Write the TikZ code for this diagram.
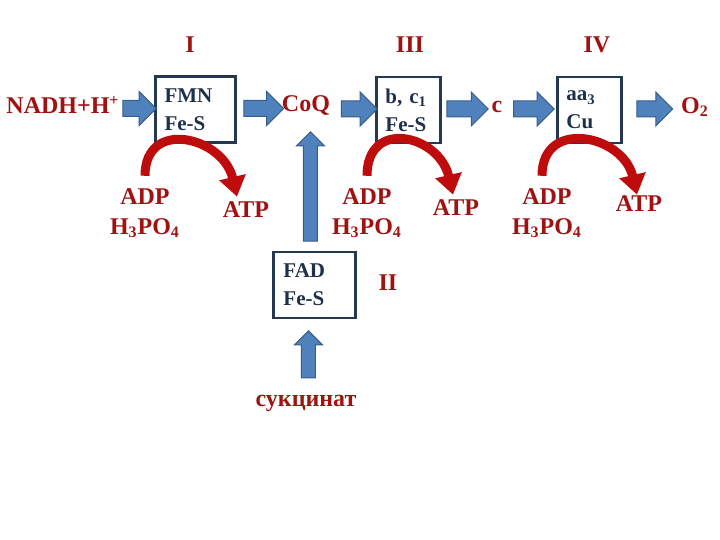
\documentclass[tikz,border=0pt]{standalone}
\usepackage{fontspec}
\setmainfont{Liberation Serif}
\usepackage{tikz}
\usetikzlibrary{arrows.meta,shapes.arrows,calc}

\definecolor{labred}{RGB}{160,18,18}
\definecolor{arcred}{RGB}{190,12,12}
\definecolor{arrblue}{RGB}{79,129,189}
\definecolor{arrline}{RGB}{56,93,138}
\definecolor{boxline}{RGB}{36,56,82}
\definecolor{boxtext}{RGB}{31,48,75}

\tikzset{
	lbl/.style={text=labred, inner sep=1pt, align=center, font=\bfseries\fontsize{12}{15}\selectfont},
	cbox/.style={draw=boxline, line width=1.3pt, text=boxtext, align=left, inner xsep=4.5pt,
		minimum height=33pt, font=\bfseries\fontsize{10.5}{14}\selectfont},
	blockarr/.style={single arrow, fill=arrblue, draw=arrline, line width=0.5pt, inner xsep=0pt,
		inner ysep=3.75pt, minimum width=16.5pt, single arrow head extend=4.5pt, single arrow head indent=0pt},
	thinarr/.style={blockarr, inner ysep=3.25pt, minimum width=13.5pt, single arrow head extend=3.5pt},
	atparc/.style={draw=arcred, line width=4.5pt, -{Triangle[width=13pt,length=10pt]}}
}

% block arrow between two points
\newcommand{\blockarrow}[3][blockarr]{%
	\path let \p1=(#2), \p2=(#3), \n1={veclen(\x2-\x1,\y2-\y1)}, \n2={atan2(\y2-\y1,\x2-\x1)} in
		node[#1, minimum height=\n1, rotate=\n2] at ($(\p1)!0.5!(\p2)$) {};}

\begin{document}
\begin{tikzpicture}[x=0.5pt,y=-0.5pt]
	\useasboundingbox (0,0) rectangle (720,540);

	% --- complex numbers ---
	\node[lbl] (cI) at (190,45) {I};
	\node[lbl] (cIII) at (410,45) {III};
	\node[lbl] (cIV) at (597,45) {IV};
	\node[lbl] (cII) at (388,283) {II};

	% --- main chain ---
	\node[lbl] (nadh) at (63,105) {NADH+H\textsuperscript{+}};
	\node[cbox, text width=31pt] (fmn) at (195.5,109.5) {FMN\\Fe-S};
	\node[lbl] (coq) at (306,106) {CoQ};
	\node[cbox, text width=23pt] (bc) at (408.5,110) {b, c\textsubscript{1}\\Fe-S};
	\node[lbl] (cyc) at (497,107) {c};
	\node[cbox, text width=23pt] (aa) at (589.5,110) {aa\textsubscript{3}\\Cu};
	\node[lbl] (otwo) at (695,107) {O\textsubscript{2}};

	\blockarrow{$(nadh.east |- fmn.west)+(-3,-1)$}{$(fmn.west)+(-2,-1)$}
	\blockarrow{$(fmn.east)+(3,-1)$}{$(coq.west |- fmn.east)+(0,-1)$}
	\blockarrow{$(coq.east |- bc.west)+(5,-1)$}{$(bc.west)+(-2,-1)$}
	\blockarrow{$(bc.east)+(1,-1)$}{$(cyc.west |- bc.east)+(-5,-1)$}
	\blockarrow{$(cyc.east |- aa.west)+(5,-1)$}{$(aa.west)+(-6,-1)$}
	\blockarrow{$(aa.east)+(10,-1)$}{$(otwo.west |- aa.east)+(-10,-1)$}

	% --- succinate branch ---
	\node[cbox, text width=31pt, inner xsep=5pt] (fad) at (314.5,285) {FAD\\Fe-S};
	\node[lbl] (succ) at (306,403) {сукцинат};
	\coordinate (fadtop) at ($(fad.north)+(-4,-6)$);
	\coordinate (coqbot) at ($(fadtop |- coq.south)+(0,17)$);
	\coordinate (fadbot) at ($(fad.south)+(-6,15)$);
	\coordinate (succtop) at ($(fadbot |- succ.north)+(0,-11)$);
	\blockarrow[thinarr]{fadtop}{coqbot}
	\blockarrow[thinarr]{succtop}{fadbot}

	% --- phosphorylation ---
	\node[lbl] (adp1) at (145,213) {ADP\\H\textsubscript{3}PO\textsubscript{4}};
	\node[lbl] (atp1) at (246,210) {ATP};
	\node[lbl] (adp2) at (367,213) {ADP\\H\textsubscript{3}PO\textsubscript{4}};
	\node[lbl] (atp2) at (456,208) {ATP};
	\node[lbl] (adp3) at (547,213) {ADP\\H\textsubscript{3}PO\textsubscript{4}};
	\node[lbl] (atp3) at (639,204) {ATP};

	\draw[atparc] ($(adp1.north)+(0,-10)$) .. controls +(0,-58) and +(-14,-60) .. ($(atp1.north)+(-9,-3)$);
	\draw[atparc] ($(adp2.north)+(0,-10)$) .. controls +(0,-58) and +(-14,-60) .. ($(atp2.north)+(-3,-3)$);
	\draw[atparc] ($(adp3.north)+(-5,-10)$) .. controls +(0,-58) and +(-14,-60) .. ($(atp3.north)+(-2,1)$);
\end{tikzpicture}
\end{document}
